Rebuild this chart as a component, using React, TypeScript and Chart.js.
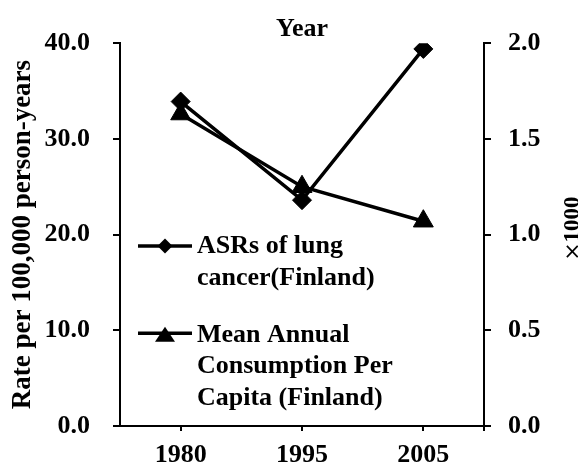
import React, { useEffect, useRef } from "react";
import { Chart, registerables } from "chart.js";

Chart.register(...registerables);

// ---- data ----
const years = ["1980", "1995", "2005"];
const asrFinland = [33.9, 23.6, 39.4];
const consumptionFinland = [1.63, 1.25, 1.07];
const seriesNames = [
  "ASRs of lung cancer(Finland)",
  "Mean Annual Consumption Per Capita (Finland)",
];
const legendLines = [
  ["ASRs of lung", "cancer(Finland)"],
  ["Mean Annual", "Consumption Per", "Capita (Finland)"],
];
const chartTitle = "Year";
const leftAxisTitle = "Rate per 100,000 person-years";
const rightAxisUnit = ["×", "1000"];
const leftRange = [0, 40, 10];
const rightRange = [0, 2, 0.5];

const FONT = '"Liberation Serif", "Times New Roman", serif';

const legendPlugin = {
  id: "customLegend",
  afterDraw(chart: any) {
    const ctx = chart.ctx as CanvasRenderingContext2D;
    const area = chart.chartArea;
    ctx.save();
    ctx.fillStyle = "#000";
    ctx.strokeStyle = "#000";

    // right axis line continues slightly below the x axis
    ctx.lineWidth = 2;
    ctx.beginPath();
    ctx.moveTo(area.right, area.bottom);
    ctx.lineTo(area.right, area.bottom + 5);
    ctx.stroke();

    ctx.font = `bold 26px ${FONT}`;
    ctx.textAlign = "left";
    ctx.textBaseline = "alphabetic";
    const items = [
      { lineY: 246, firstBaseline: 253.3, marker: "diamond" },
      { lineY: 333.3, firstBaseline: 341.7, marker: "triangle" },
    ];
    items.forEach((it, i) => {
      ctx.lineWidth = 3.5;
      ctx.beginPath();
      ctx.moveTo(138, it.lineY);
      ctx.lineTo(192, it.lineY);
      ctx.stroke();
      ctx.beginPath();
      if (it.marker === "diamond") {
        const r = 7.5;
        ctx.moveTo(165 - r, it.lineY);
        ctx.lineTo(165, it.lineY - r);
        ctx.lineTo(165 + r, it.lineY);
        ctx.lineTo(165, it.lineY + r);
      } else {
        ctx.moveTo(165, 326.7);
        ctx.lineTo(175, 341.7);
        ctx.lineTo(155, 341.7);
      }
      ctx.closePath();
      ctx.fill();
      legendLines[i].forEach((line, k) => {
        ctx.fillText(line, 197, it.firstBaseline + k * 31.7);
      });
    });

    // right axis unit label, reading bottom to top
    const cy = (area.top + area.bottom) / 2 - 6;
    ctx.translate(573, cy);
    ctx.rotate(-Math.PI / 2);
    ctx.textBaseline = "middle";
    const fontX = `22px "DejaVu Sans", sans-serif`;
    const fontN = `bold 23px ${FONT}`;
    ctx.font = fontX;
    const w1 = ctx.measureText(rightAxisUnit[0]).width;
    ctx.font = fontN;
    const w2 = ctx.measureText(rightAxisUnit[1]).width;
    const start = -(w1 + w2) / 2;
    ctx.font = fontX;
    ctx.fillText(rightAxisUnit[0], start, 0);
    ctx.font = fontN;
    ctx.fillText(rightAxisUnit[1], start + w1, 0);
    ctx.restore();
  },
};

export default function App() {
  const ref = useRef<HTMLCanvasElement | null>(null);
  useEffect(() => {
    if (!ref.current) return;
    const tickFont = { family: FONT, size: 26, weight: "bold" as const };
    const chart = new Chart(ref.current, {
      type: "line",
      data: {
        labels: years,
        datasets: [
          {
            label: seriesNames[0],
            data: asrFinland,
            yAxisID: "y",
            borderColor: "#000",
            backgroundColor: "#000",
            borderWidth: 3.5,
            pointStyle: "rectRot",
            pointRadius: 9.5,
            pointBorderWidth: 1,
            pointBackgroundColor: "#000",
            pointBorderColor: "#000",
            tension: 0,
          },
          {
            label: seriesNames[1],
            data: consumptionFinland,
            yAxisID: "y1",
            borderColor: "#000",
            backgroundColor: "#000",
            borderWidth: 3.5,
            pointStyle: "triangle",
            pointRadius: 11.5,
            pointBorderWidth: 1,
            pointBackgroundColor: "#000",
            pointBorderColor: "#000",
            tension: 0,
          },
        ],
      },
      options: {
        responsive: false,
        animation: false,
        layout: { padding: 0 },
        plugins: {
          legend: { display: false },
          tooltip: { enabled: false },
          title: {
            display: true,
            text: chartTitle,
            fullSize: false,
            color: "#000",
            font: { family: FONT, size: 26, weight: "bold" },
            padding: { top: 14, bottom: -2 },
          },
        },
        scales: {
          x: {
            type: "category",
            position: "bottom",
            offset: true,
            grid: {
              display: true,
              drawOnChartArea: false,
              drawTicks: true,
              tickLength: 5,
              color: "#000",
              lineWidth: 2,
              offset: false,
            },
            border: { display: true, color: "#000", width: 2 },
            ticks: { color: "#000", font: tickFont, padding: 9, maxRotation: 0 },
            afterFit: (s: any) => {
              s.height = 43;
            },
          },
          y: {
            position: "left",
            min: leftRange[0],
            max: leftRange[1],
            grid: {
              display: true,
              drawOnChartArea: false,
              tickLength: 7,
              color: "#000",
              lineWidth: 2,
            },
            border: { display: true, color: "#000", width: 2 },
            ticks: {
              stepSize: leftRange[2],
              color: "#000",
              font: tickFont,
              padding: 23,
              callback: (v: any) => Number(v).toFixed(1),
            },
            title: {
              display: true,
              text: leftAxisTitle,
              color: "#000",
              font: { family: FONT, size: 27, weight: "bold" },
              padding: { top: 7, bottom: 0 },
            },
            afterFit: (s: any) => {
              s.width = 120;
            },
          },
          y1: {
            position: "right",
            min: rightRange[0],
            max: rightRange[1],
            grid: {
              display: true,
              drawOnChartArea: false,
              tickLength: 7,
              color: "#000",
              lineWidth: 2,
            },
            border: { display: true, color: "#000", width: 2 },
            ticks: {
              stepSize: rightRange[2],
              color: "#000",
              font: tickFont,
              padding: 17,
              callback: (v: any) => Number(v).toFixed(1),
            },
            afterFit: (s: any) => {
              s.width = 94;
            },
          },
        },
      },
      plugins: [legendPlugin],
    });
    return () => chart.destroy();
  }, []);
  return (
    <canvas
      ref={ref}
      width={578}
      height={469}
      style={{ position: "absolute", left: 0, top: 0, width: 578, height: 469 }}
    />
  );
}
